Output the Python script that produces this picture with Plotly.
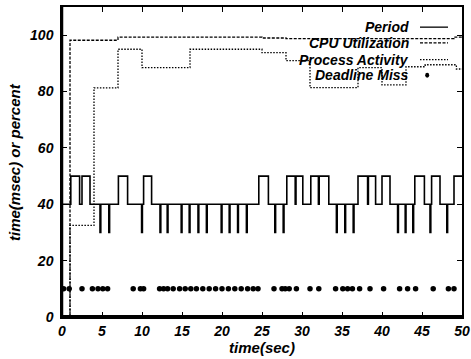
import plotly.graph_objects as go

# ---- data ----
period_t = [0.0, 1.1, 2.2, 2.5, 3.5, 4.75, 4.85, 5.85, 5.95, 7.05, 8.2, 9.95, 10.05, 10.2, 11.2,
            12.25, 12.35, 13.15, 13.25, 14.9, 15.0, 15.9, 16.0, 17.0, 17.1, 18.05, 18.15,
            19.9, 20.0, 20.9, 21.0, 21.95, 22.05, 23.05, 23.15, 24.6, 25.8, 26.6, 26.7,
            27.65, 27.75, 28.1, 29.15, 29.25, 30.1, 31.1, 32.05, 32.15, 33.35, 34.3, 34.4,
            35.35, 35.45, 36.4, 36.5, 37.0, 38.2, 38.3, 39.2, 40.0, 41.0, 41.95, 42.05,
            42.9, 43.0, 43.85, 43.95, 44.1, 45.3, 46.0, 46.1, 46.2, 47.25, 48.1, 48.2, 49.0, 50.0]
period_v = [40, 50, 40, 50, 40, 30, 40, 30, 40, 50, 40, 30, 40, 50, 40,
            30, 40, 30, 40, 30, 40, 30, 40, 30, 40, 30, 40,
            30, 40, 30, 40, 30, 40, 30, 40, 50, 40, 30, 40,
            30, 40, 50, 40, 50, 40, 50, 40, 50, 40, 30, 40,
            30, 40, 30, 40, 50, 40, 50, 40, 50, 40, 30, 40,
            30, 40, 30, 40, 50, 40, 30, 40, 50, 40, 30, 40, 50, 50]

cpu_t = [0.0, 1.0, 7.0, 25.0, 28.0, 49.0, 50.0]
cpu_v = [0.0, 98.2, 99.3, 99.0, 98.8, 99.3, 99.3]

proc_t = [0.0, 1.0, 4.0, 7.0, 10.0, 16.0, 25.0, 28.0, 31.0, 37.0, 40.0, 43.0, 45.4, 49.3, 50.0]
proc_v = [0.0, 32.5, 81.3, 95.0, 88.5, 95.0, 93.8, 91.0, 81.4, 88.5, 82.4, 88.8, 89.5, 88.0, 88.0]

miss_t = [0.2, 0.9, 2.5, 3.8, 4.5, 5.1, 5.7, 8.9, 9.8, 10.2,
          12.2, 12.7, 13.2, 13.9, 14.7, 15.4, 16.1, 16.8, 17.6, 18.4, 19.2, 20.0, 20.8,
          21.6, 22.4, 23.2, 23.9, 24.5,
          26.5, 27.5, 27.9, 28.4, 29.3, 31.0, 32.1, 34.2, 35.1, 35.7, 36.3, 37.2, 38.5,
          40.2, 42.2, 43.2, 44.2, 46.4, 48.3, 49.0]
miss_v = [10] * len(miss_t)

legend_labels = ["Period", "CPU Utilization", "Process Activity", "Deadline Miss"]
x_ticks = [0, 5, 10, 15, 20, 25, 30, 35, 40, 45, 50]
y_ticks = [0, 20, 40, 60, 80, 100]

FONT = "Liberation Sans"
fig = go.Figure()
fig.add_trace(go.Scatter(x=period_t, y=period_v, mode="lines", line_shape="hv",
                         line=dict(color="black", width=1.6), showlegend=False))
fig.add_trace(go.Scatter(x=cpu_t, y=cpu_v, mode="lines", line_shape="hv",
                         line=dict(color="black", width=1.3, dash="3px,1.5px"), showlegend=False))
fig.add_trace(go.Scatter(x=proc_t, y=proc_v, mode="lines", line_shape="hv",
                         line=dict(color="black", width=1.3, dash="1.5px,1.5px"), showlegend=False))
fig.add_trace(go.Scatter(x=miss_t, y=miss_v, mode="markers",
                         marker=dict(color="black", size=5.5), showlegend=False))

# custom legend (text right-aligned, sample on the right)
rows_y = [0.935, 0.884, 0.83, 0.78]
dashes = ["solid", "3px,1.5px", "1.5px,1.5px", None]
for lab, yy, d in zip(legend_labels, rows_y, dashes):
    fig.add_annotation(x=0.872, y=yy, xref="paper", yref="paper", text=lab,
                       showarrow=False, xanchor="right", yanchor="middle",
                       font=dict(family=FONT, size=14, color="black", weight="bold", style="italic"))
    if d is not None:
        fig.add_shape(type="line", xref="paper", yref="paper", x0=0.895, x1=0.965, y0=yy, y1=yy,
                      line=dict(color="black", width=1.3, dash=d))
    else:
        fig.add_shape(type="circle", xref="paper", yref="paper",
                      x0=0.908, x1=0.918, y0=yy - 0.008, y1=yy + 0.008,
                      fillcolor="black", line=dict(color="black", width=0))

# y axis title as rotated annotation for exact placement
fig.add_annotation(x=-0.12, y=0.5, xref="paper", yref="paper", text="time(msec) or percent",
                   textangle=-90, showarrow=False, xanchor="center", yanchor="middle",
                   font=dict(family=FONT, size=15, color="black", weight="bold", style="italic"))

# thick bottom and left frame lines
fig.add_shape(type="line", xref="paper", yref="paper", x0=0, x1=1, y0=0, y1=0,
              line=dict(color="black", width=4))
fig.add_shape(type="line", xref="paper", yref="paper", x0=0, x1=0, y0=0, y1=1,
              line=dict(color="black", width=2.5))

tickfont = dict(family=FONT, size=14, color="black", weight="bold", style="italic")
titlefont = dict(family=FONT, size=15, color="black", weight="bold", style="italic")
fig.update_xaxes(range=[0, 50], tickvals=x_ticks, ticks="inside", ticklen=5, tickwidth=1.2,
                 tickcolor="black", mirror="ticks", showline=True, linecolor="black", linewidth=1.5,
                 showgrid=False, zeroline=False, tickfont=tickfont, automargin=False,
                 ticklabelstandoff=0,
                 title=dict(text="time(sec)", font=titlefont, standoff=0))
fig.update_yaxes(range=[0, 110], tickvals=y_ticks, ticks="inside", ticklen=5, tickwidth=1.2,
                 tickcolor="black", mirror="ticks", showline=True, linecolor="black", linewidth=1.5,
                 showgrid=False, zeroline=False, tickfont=tickfont, ticklabelstandoff=4,
                 automargin=False)
fig.update_layout(width=471, height=359, margin=dict(l=62, r=9, t=7, b=42),
                  plot_bgcolor="white", paper_bgcolor="white")
fig.write_html("out.html", config={"displayModeBar": False},
               post_script="document.body.style.margin='0';")
